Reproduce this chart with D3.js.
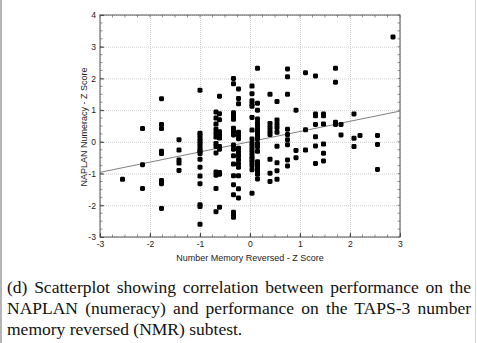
<!DOCTYPE html>
<html>
<head>
<meta charset="utf-8">
<script src="https://cdn.jsdelivr.net/npm/d3@7"></script>
<style>
  body { margin: 0; background: #fff; width: 477px; height: 343px; overflow: hidden; position: relative; }
  svg { position: absolute; left: 0; top: 0; }
  .tick text { font-family: "Liberation Sans", Arial, sans-serif; font-size: 8.6px; fill: #222; }
  .lbl { font-family: "Liberation Sans", Arial, sans-serif; font-size: 9px; fill: #222; }
  #caption {
    position: absolute; left: 7px; top: 277px; width: 464px;
    font-family: "Liberation Serif", "Times New Roman", serif;
    font-size: 17.5px; line-height: 21px; color: #111;
    text-align: justify;
  }
</style>
</head>
<body>
<div id="caption">(d) Scatterplot showing correlation between performance on the NAPLAN (numeracy) and performance on the TAPS-3 number memory reversed (NMR) subtest.</div>
<script>
// NMR z-score levels (x) and the NAPLAN z-scores observed at each level (y)
const nmrLevels = [-2.55, -2.15, -1.77, -1.42, -1.0, -0.68, -0.61, -0.33, -0.23, 0.04, 0.15,
  0.4, 0.54, 0.75, 0.92, 1.11, 1.31, 1.47, 1.71, 1.82, 2.08, 2.2, 2.55, 2.86];
const naplanAtLevel = [
  [-1.18],
  [0.42, -0.72, -1.47],
  [1.36, 0.55, 0.42, -0.3, -0.37, -1.22, -1.32, -2.1],
  [0.07, -0.26, -0.57, -0.67, -0.9],
  [1.63, 0.27, 0.2, 0.1, 0.02, -0.06, -0.15, -0.25, -0.3, -0.37, -0.55, -0.8, -1.08, -1.32, -1.98, -2.04, -2.6],
  [0.94, 0.75, 0.56, 0.4, 0.27, 0.15, -0.05, -0.15, -0.35, -0.95, -1.05, -1.47, -2.2],
  [1.44, 0.89, 0.7, 0.32, 0.22, 0.12, -0.15, -0.23, -0.97, -1.02, -2.06],
  [2.0, 1.83, 0.92, 0.82, 0.71, 0.43, 0.33, 0.22, -0.1, -0.23, -0.44, -0.7, -1.07, -1.35, -1.67, -2.22, -2.3, -2.38],
  [1.67, 1.37, 1.2, 0.3, 0.2, 0.1, -0.2, -0.3, -0.42, -0.55, -0.68, -0.8, -1.07, -1.48, -1.77],
  [1.76, 1.52, 1.3, 1.2, 1.12, 0.77, 0.37, 0.09, -0.05, -0.15, -0.25, -0.35, -0.45, -0.55, -0.65, -0.75, -0.88, -1.62],
  [2.32, 1.22, 1.0, 0.72, 0.6, 0.5, 0.4, 0.3, 0.2, 0.1, -0.05, -0.15, -0.3, -0.63, -0.72, -0.82, -0.92, -1.02, -1.17],
  [1.5, 0.58, 0.46, 0.34, 0.23, -0.55, -0.99, -1.25],
  [1.27, 0.69, 0.57, 0.45, 0.3, -0.14, -0.66, -0.91, -1.18],
  [2.3, 2.05, 1.5, 0.4, 0.23, 0.07, -0.09, -0.57, -0.76],
  [1.0, -0.27, -0.5],
  [2.18, 0.38, -0.26],
  [2.08, 0.88, 0.82, 0.55, 0.16, -0.13, -0.68],
  [0.88, 0.82, 0.56, -0.07, -0.36, -0.6],
  [2.32, 1.88, 0.62, 0.55],
  [0.55, 0.22],
  [0.88, 0.11, -0.15],
  [0.2],
  [0.2, -0.08, -0.87],
  [3.31]
];
const xTicks = [-3, -2, -1, 0, 1, 2, 3];
const yTicks = [-3, -2, -1, 0, 1, 2, 3, 4];
// fitted line: y = a + b*x
const fitIntercept = 0.005, fitSlope = 0.322;

const points = [];
nmrLevels.forEach((lv, i) => naplanAtLevel[i].forEach(v => points.push({x: lv, y: v})));

const W = 477, H = 343;
const pLeft = 100, pRight = 400, pTop = 15, pBottom = 237;

const svg = d3.select('body').append('svg').attr('width', W).attr('height', H);

// page edges of the scanned figure
svg.append('rect').attr('x', 0).attr('y', 0).attr('width', 2).attr('height', H).attr('fill', '#b4b4b4');
svg.append('rect').attr('x', 475).attr('y', 0).attr('width', 1).attr('height', H).attr('fill', '#d4d4d4');

const x = d3.scaleLinear().domain([-3, 3]).range([pLeft, pRight]);
const y = d3.scaleLinear().domain([-3, 4]).range([pBottom, pTop]);

// grid
svg.append('g')
  .attr('transform', `translate(0,${pBottom})`)
  .call(d3.axisBottom(x).tickValues(xTicks).tickSize(-(pBottom - pTop)).tickFormat(''))
  .call(g => g.select('.domain').remove())
  .selectAll('line').attr('stroke', '#cfcfcf').attr('stroke-dasharray', '1,1');
svg.append('g')
  .attr('transform', `translate(${pLeft},0)`)
  .call(d3.axisLeft(y).tickValues(yTicks).tickSize(-(pRight - pLeft)).tickFormat(''))
  .call(g => g.select('.domain').remove())
  .selectAll('line').attr('stroke', '#cfcfcf').attr('stroke-dasharray', '1,1');

// minor ticks on all four sides
const xMinor = d3.range(-3, 3.001, 0.25);
const yMinor = d3.range(-3, 4.001, 0.25);
const minor = svg.append('g').attr('stroke', '#777').attr('stroke-width', 0.8);
xMinor.forEach(v => {
  minor.append('line').attr('x1', x(v)).attr('x2', x(v)).attr('y1', pTop).attr('y2', pTop + 2.5);
  minor.append('line').attr('x1', x(v)).attr('x2', x(v)).attr('y1', pBottom).attr('y2', pBottom - 2.5);
});
yMinor.forEach(v => {
  minor.append('line').attr('y1', y(v)).attr('y2', y(v)).attr('x1', pLeft).attr('x2', pLeft + 2.5);
  minor.append('line').attr('y1', y(v)).attr('y2', y(v)).attr('x1', pRight).attr('x2', pRight - 2.5);
});

// axes with labels
const xa = svg.append('g')
  .attr('transform', `translate(0,${pBottom})`)
  .call(d3.axisBottom(x).tickValues(xTicks).tickSize(-4).tickPadding(4).tickFormat(d3.format('d')));
xa.select('.domain').remove();
xa.selectAll('line').attr('stroke', '#444');
const ya = svg.append('g')
  .attr('transform', `translate(${pLeft},0)`)
  .call(d3.axisLeft(y).tickValues(yTicks).tickSize(-4).tickPadding(4).tickFormat(d3.format('d')));
ya.select('.domain').remove();
ya.selectAll('line').attr('stroke', '#444');
// hyphen instead of unicode minus, as in the source
svg.selectAll('.tick text').text(function() { return this.textContent.replace('\u2212', '-'); });

// frame
svg.append('rect')
  .attr('x', pLeft).attr('y', pTop).attr('width', pRight - pLeft).attr('height', pBottom - pTop)
  .attr('fill', 'none').attr('stroke', '#555').attr('stroke-width', 1);

// fit line
svg.append('line')
  .attr('x1', x(-3)).attr('y1', y(fitIntercept + fitSlope * -3))
  .attr('x2', x(3)).attr('y2', y(fitIntercept + fitSlope * 3))
  .attr('stroke', '#808080').attr('stroke-width', 1);

// points
svg.append('g').selectAll('rect').data(points).join('rect')
  .attr('x', d => x(d.x) - 2.5).attr('y', d => y(d.y) - 2.5)
  .attr('width', 5).attr('height', 5).attr('rx', 1.4)
  .attr('fill', '#000');

// axis titles
svg.append('text').attr('class', 'lbl')
  .attr('x', 250).attr('y', 261).attr('text-anchor', 'middle')
  .text('Number Memory Reversed - Z Score');
svg.append('text').attr('class', 'lbl')
  .attr('transform', 'translate(87,127) rotate(-90)').attr('text-anchor', 'middle')
  .text('NAPLAN Numeracy - Z Score');
</script>
</body>
</html>
